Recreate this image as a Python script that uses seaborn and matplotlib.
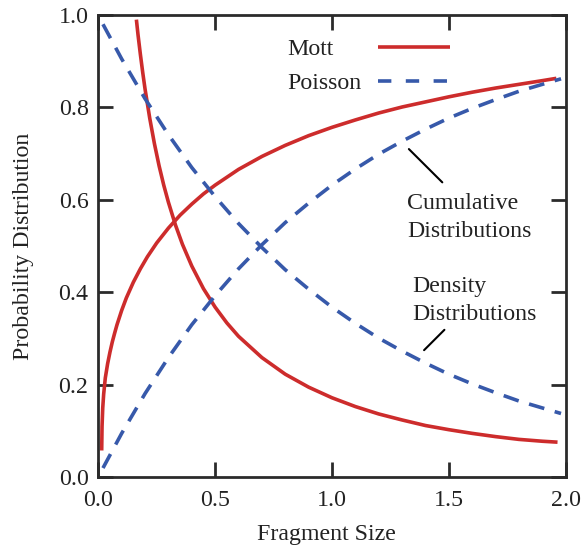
import matplotlib
matplotlib.use("Agg")
import matplotlib.pyplot as plt
import seaborn as sns

# ---- data ----
mott_cum_x = [0.0145, 0.016, 0.019, 0.023, 0.03, 0.04, 0.05, 0.06, 0.07, 0.08, 0.10, 0.12,
              0.15, 0.18, 0.21, 0.25, 0.30, 0.35, 0.40, 0.45, 0.50, 0.60, 0.70, 0.80,
              0.90, 1.00, 1.10, 1.20, 1.30, 1.40, 1.50, 1.60, 1.70, 1.80, 1.90, 1.96]
mott_cum_y = [0.058, 0.110, 0.150, 0.180, 0.215, 0.246, 0.271, 0.293, 0.312, 0.330, 0.361, 0.388,
              0.422, 0.451, 0.477, 0.507, 0.539, 0.567, 0.591, 0.613, 0.632, 0.666, 0.694, 0.718,
              0.739, 0.757, 0.773, 0.788, 0.801, 0.812, 0.823, 0.833, 0.842, 0.850, 0.858, 0.863]
mott_den_x = [0.163, 0.17, 0.18, 0.19, 0.20, 0.22, 0.24, 0.26, 0.28, 0.30, 0.33, 0.36,
              0.40, 0.45, 0.50, 0.55, 0.60, 0.70, 0.80, 0.90, 1.00, 1.10, 1.20, 1.30,
              1.40, 1.50, 1.60, 1.70, 1.80, 1.90, 1.965]
mott_den_y = [0.990, 0.957, 0.915, 0.876, 0.840, 0.777, 0.722, 0.674, 0.632, 0.595, 0.546, 0.504,
              0.457, 0.408, 0.368, 0.334, 0.305, 0.259, 0.223, 0.195, 0.172, 0.153, 0.137, 0.124,
              0.112, 0.103, 0.095, 0.088, 0.082, 0.078, 0.076]
pois_x = [0.02, 0.1, 0.2, 0.3, 0.4, 0.5, 0.6, 0.7, 0.8, 0.9, 1.0, 1.1, 1.2, 1.3, 1.4, 1.5,
          1.6, 1.7, 1.8, 1.9, 1.98]
pois_den_y = [0.980, 0.905, 0.819, 0.741, 0.670, 0.607, 0.549, 0.497, 0.449, 0.407, 0.368, 0.333,
              0.301, 0.273, 0.247, 0.223, 0.202, 0.183, 0.165, 0.150, 0.138]
pois_cum_y = [0.020, 0.095, 0.181, 0.259, 0.330, 0.393, 0.451, 0.503, 0.551, 0.593, 0.632, 0.667,
              0.699, 0.727, 0.753, 0.777, 0.798, 0.817, 0.835, 0.850, 0.862]
x_ticks = [0.0, 0.5, 1.0, 1.5, 2.0]
y_ticks = [0.0, 0.2, 0.4, 0.6, 0.8, 1.0]

RED = "#CD2C2C"
BLUE = "#3759AA"
INK = "#222222"
FS = 17.2
DPI = 100

sns.set_style("ticks")
plt.rcParams["font.family"] = ["Liberation Serif", "DejaVu Serif"]
plt.rcParams["axes.linewidth"] = 2.0
plt.rcParams["axes.edgecolor"] = "#2b2b2b"

fig = plt.figure(figsize=(5.82, 5.46), dpi=DPI)
ax = fig.add_axes([98.3 / 582, 1 - 477.3 / 546, 467.4 / 582, 462.3 / 546])

lw = 2.6
dash = (4.4, 3.0)
sns.lineplot(x=mott_cum_x, y=mott_cum_y, ax=ax, color=RED, lw=lw, label="Mott", sort=False)
sns.lineplot(x=mott_den_x, y=mott_den_y, ax=ax, color=RED, lw=lw, sort=False, legend=False)
sns.lineplot(x=pois_x, y=pois_cum_y, ax=ax, color=BLUE, lw=lw, sort=False, legend=False)
sns.lineplot(x=pois_x, y=pois_den_y, ax=ax, color=BLUE, lw=lw, label="Poisson", sort=False)
for line in ax.lines[2:4]:
    line.set_dashes(dash)
for line in ax.lines:
    line.set_solid_capstyle("butt")
    line.set_dash_capstyle("butt")

ax.set_xlim(0, 2.0)
ax.set_ylim(0, 1.0)
ax.set_xticks(x_ticks)
ax.set_yticks(y_ticks)
ax.set_xticklabels([f"{v:.1f}" for v in x_ticks])
ax.set_yticklabels([f"{v:.1f}" for v in y_ticks])
ax.tick_params(direction="in", length=11, width=2.0, top=True, right=True,
               labelsize=FS, colors="#2b2b2b", labelcolor=INK)
ax.tick_params(axis="y", pad=7)
ax.tick_params(axis="x", pad=9)
ax.set_xlabel("Fragment Size", fontsize=FS, labelpad=9, color=INK)
ax.set_ylabel("Probability Distribution", fontsize=FS, labelpad=18, color=INK)
ax.xaxis.set_label_coords(0.4887, -0.101)

handles, labels = ax.get_legend_handles_labels()
hpad = 0.7
leg = ax.legend(handles, labels, loc="upper left", bbox_to_anchor=(0.4044, 0.949),
                frameon=False, markerfirst=False, fontsize=FS, handlelength=3.0,
                handletextpad=hpad, labelspacing=0.52, borderpad=0, borderaxespad=0)
for h, t in zip(leg.get_lines(), leg.get_texts()):
    h.set_linewidth(lw)
    h.set_solid_capstyle("butt")
    h.set_dash_capstyle("butt")
    t.set_color(INK)
leg.get_lines()[1].set_dashes((3.7, 4.0))

# left-align legend labels while keeping the keys in one column
fig.canvas.draw()
renderer = fig.canvas.get_renderer()
texts = leg.get_texts()
widths = [t.get_window_extent(renderer).width * 72 / DPI for t in texts]
wmax = max(widths)
column = leg._legend_handle_box.get_children()[0]
for row, w in zip(column.get_children(), widths):
    row.sep = hpad * FS + (wmax - w)
column.align = "left"

# annotation leader lines
ax.annotate("", xy=(1.329, 0.710), xytext=(1.472, 0.638),
            arrowprops=dict(arrowstyle="-", color="black", lw=1.5, shrinkA=0, shrinkB=0))
ax.annotate("", xy=(1.481, 0.319), xytext=(1.394, 0.275),
            arrowprops=dict(arrowstyle="-", color="black", lw=1.5, shrinkA=0, shrinkB=0))
ax.text(1.320, 0.580, "Cumulative", fontsize=FS, color=INK, ha="left", va="baseline")
ax.text(1.320, 0.519, "Distributions", fontsize=FS, color=INK, ha="left", va="baseline")
ax.text(1.344, 0.401, "Density", fontsize=FS, color=INK, ha="left", va="baseline")
ax.text(1.344, 0.340, "Distributions", fontsize=FS, color=INK, ha="left", va="baseline")

fig.savefig("out.png", dpi=DPI)
